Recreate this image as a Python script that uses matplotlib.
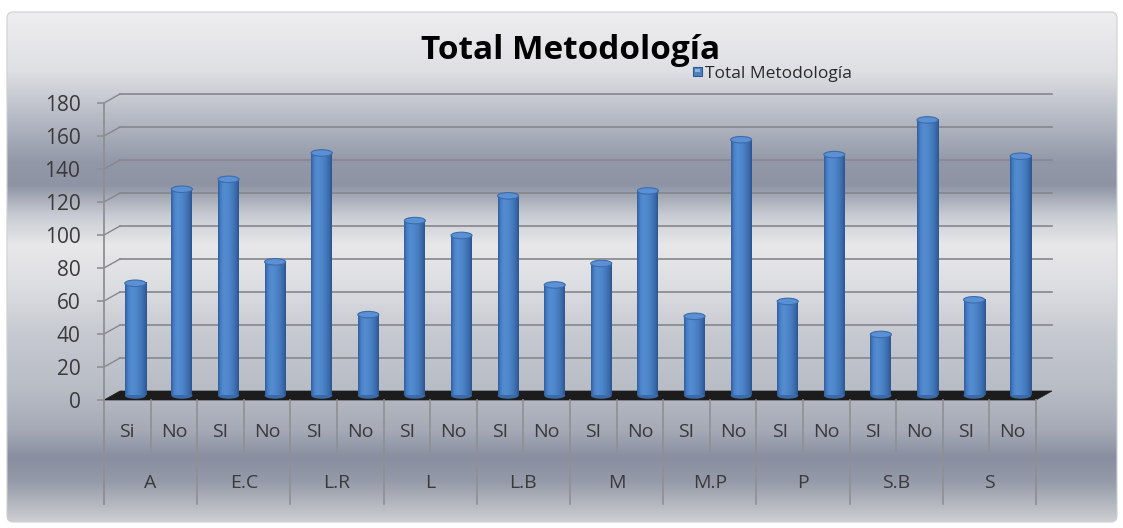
import numpy as np
import matplotlib
matplotlib.use('Agg')
import matplotlib.pyplot as plt
from matplotlib.patches import Ellipse, Polygon, FancyBboxPatch, Rectangle
from matplotlib.colors import to_rgb

# ---------------- data ----------------
groups = ['A', 'E.C', 'L.R', 'L', 'L.B', 'M', 'M.P', 'P', 'S.B', 'S']
answers = ['Si', 'No', 'SI', 'No', 'SI', 'No', 'SI', 'No', 'SI', 'No',
           'SI', 'No', 'SI', 'No', 'SI', 'No', 'SI', 'No', 'SI', 'No']
values = [68, 125, 131, 81, 147, 49, 106, 97, 121, 67,
          80, 124, 48, 155, 57, 146, 37, 167, 58, 145]
yticks = [0, 20, 40, 60, 80, 100, 120, 140, 160, 180]
title = 'Total Metodología'
series_name = 'Total Metodología'

plt.rcParams['font.family'] = ['Open Sans', 'DejaVu Sans']

W, H = 1123, 528
fig = plt.figure(figsize=(W / 100, H / 100), dpi=100)
fig.patch.set_facecolor('white')

# ---------------- background ----------------
bg = fig.add_axes([0, 0, 1, 1])
bg.set_xlim(0, W)
bg.set_ylim(H, 0)
bg.axis('off')
stops = [(12, '#eeeef0'), (70, '#dfe0e4'), (115, '#b8bcc6'), (162, '#9298a8'),
         (185, '#8e94a4'), (215, '#c8cbd2'), (245, '#e8e8ea'), (285, '#dddee2'),
         (335, '#c6c9d0'), (390, '#b8bcc5'), (430, '#a5aab6'), (458, '#888e9f'),
         (482, '#969baa'), (522, '#cdced2')]
rows = np.arange(12, 523)
ys = [s[0] for s in stops]
cols = np.array([to_rgb(s[1]) for s in stops])
grad = np.stack([np.interp(rows, ys, cols[:, k]) for k in range(3)], axis=-1)[:, None, :]
im = bg.imshow(grad, extent=(7, 1117, 522, 12), aspect='auto', zorder=0,
               interpolation='bilinear')
frame = FancyBboxPatch((7, 12), 1110, 510, boxstyle='round,pad=0,rounding_size=6',
                       fc='none', ec='#d0d0d4', lw=0.8, zorder=1)
bg.add_patch(frame)
im.set_clip_path(frame)

# title & legend
fig.text(571 / W, 1 - 59 / H, title, ha='center', va='baseline',
         fontsize=24, fontweight='bold', color='black')
bg.add_patch(Rectangle((693, 67), 9, 9, fc='#4f81bd', ec='#2f5a93', lw=0.8, zorder=3))
bg.add_patch(Rectangle((695, 69), 5, 3, fc='#8fb3e0', ec='none', zorder=4))
bg.text(705, 78, series_name, ha='left', va='baseline', fontsize=12.5, color='#2a2a2a')

# ---------------- main axes ----------------
x0, x1, y0, y1 = 104, 1036, 400, 103
ax = fig.add_axes([x0 / W, (H - y0) / H, (x1 - x0) / W, (y0 - y1) / H])
ax.patch.set_alpha(0)
n = len(values)
px_x = (x1 - x0) / n
px_y = (y0 - y1) / 180.0
ddx = 16 / px_x
ddy = 9 / px_y

grid_c = '#85878c'
# back gridlines + diagonal connectors
for v in yticks[1:]:
    ax.plot([-0.5 + ddx, n - 0.5 + ddx], [v + ddy, v + ddy], color=grid_c, lw=1.2,
            clip_on=False, zorder=1)
    ax.plot([-0.5, -0.5 + ddx], [v, v + ddy], color=grid_c, lw=1.0, clip_on=False, zorder=1)

# floor
floor = Polygon([(-0.5, 0), (n - 0.5, 0), (n - 0.5 + ddx, ddy), (-0.5 + ddx, ddy)],
                closed=True, fc='#1c1c1c', ec='#1c1c1c', lw=0.5, clip_on=False, zorder=2)
ax.add_patch(floor)

# cylinders
body_cols = ['#2f5f9f', '#4a80c6', '#548cd1', '#508acd', '#4c83c6', '#4479bd', '#3b6baa', '#2c5690']
bc = np.array([to_rgb(c) for c in body_cols])
tt = np.linspace(0, 1, len(body_cols))
ss = np.linspace(0, 1, 60)
body = np.stack([np.interp(ss, tt, bc[:, k]) for k in range(3)], axis=-1)[None, :, :]
hw = 10.5 / px_x
eh = 6.5 / px_y
for i, v in enumerate(values):
    xc = i + ddx / 2
    yb = ddy / 2
    yt = v + ddy / 2
    ax.add_patch(Ellipse((xc, yb), 2 * hw, eh, fc='#3a6aa8', ec='none', zorder=3,
                         clip_on=False))
    ax.imshow(body, extent=(xc - hw, xc + hw, yb, yt), aspect='auto', zorder=4,
              interpolation='bilinear', clip_on=False)
    ax.add_patch(Ellipse((xc, yt), 2 * hw, eh, fc='#5b90d4', ec='#3b6cab', lw=0.8,
                         zorder=5, clip_on=False))

# category axis lines and labels
sep_c = '#8e9094'
y_row1 = (y0 - 432) / px_y
y_row2 = (y0 - 483) / px_y
short_end = (y0 - 452) / px_y
long_end = (y0 - 504) / px_y
ax.plot([-0.5, -0.5], [180, long_end], color=sep_c, lw=1.3, clip_on=False, zorder=2)
ax.plot([n - 0.5, n - 0.5], [0, long_end], color=sep_c, lw=1.3, clip_on=False, zorder=2)
for k in range(n - 1):
    xb = k + 0.5
    end = long_end if k % 2 == 1 else short_end
    ax.plot([xb, xb], [0, end], color=sep_c, lw=1.2, clip_on=False, zorder=2)
for i, a in enumerate(answers):
    ax.text(i, y_row1, a, ha='center', va='center', fontsize=14, color='#3a3a3a',
            clip_on=False)
for g, name in enumerate(groups):
    ax.text(2 * g + 0.5, y_row2, name, ha='center', va='center', fontsize=14,
            color='#3a3a3a', clip_on=False)

ax.set_xlim(-0.5, n - 0.5)
ax.set_ylim(0, 180)
ax.set_xticks([])
ax.set_yticks(yticks)
ax.set_yticklabels([str(t) for t in yticks])
ax.tick_params(axis='y', length=5, width=1.2, color=sep_c, pad=12, labelsize=15,
               labelcolor='#3a3a3a')
for s in ax.spines.values():
    s.set_visible(False)

fig.savefig('out.png', dpi=100)
